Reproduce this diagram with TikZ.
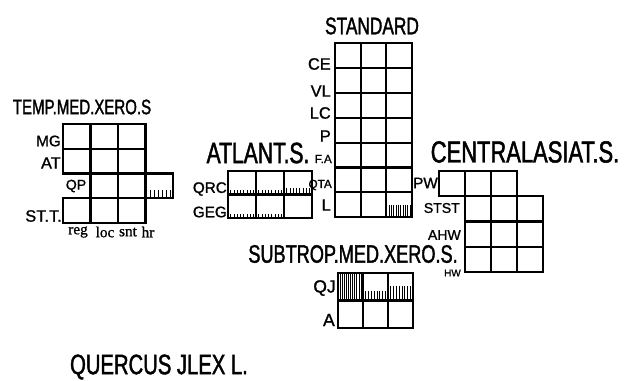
\documentclass[tikz,border=0pt]{standalone}
\usepackage{fontspec}
\setmainfont[FakeBold=1.2]{Liberation Sans}
\newfontfamily\handfont[FakeStretch=0.72, FakeBold=1.5]{Liberation Sans}
\newfontfamily\tagfont[FakeBold=1]{Liberation Serif}
\usetikzlibrary{positioning}

\newcommand{\hatchcell}[5]{%
  \foreach \k in {1,...,#5}
    \draw[hatch] ({#1+(#2-#1)*(\k-0.5)/#5},#3) -- ++(0,-#4);}

\begin{document}
\begin{tikzpicture}[x=0.03cm, y=-0.03cm,
    cell/.style={draw, line width=1.8pt},
    hatch/.style={line width=0.6pt},
    title/.style={font=\handfont\fontsize{#1}{#1}\selectfont, inner sep=0pt},
    lab/.style={anchor=east, inner sep=0pt, font=\fontsize{#1}{#1}\selectfont},
    tag/.style={inner sep=0pt, font=\tagfont\fontsize{13}{13}\selectfont}
  ]
  \useasboundingbox (0,0) rectangle (627,380);

  \node[title=20.5] (tStd) at (372,26) {STANDARD};
  \foreach \c in {0,1,2}
    \foreach \r in {0,...,6}
      \draw[cell] ({335+\c*25.7},{43+\r*24.9}) rectangle ++(25.7,24.9);
  \hatchcell{388}{411}{216}{11}{10}
  \node[lab=14] (ce) at (331,64) {CE};
  \node[lab=14] (vl) at (331,91) {VL};
  \node[lab=14] (lc) at (331,113) {LC};
  \node[lab=14] (p) at (331,136) {P};
  \node[lab=10] (fa) at (332,159) {F.A};
  \node[lab=10] (qta) at (332,185) {QTA};
  \node[lab=14] (l) at (331,205) {L};

  \node[title=17.8] (tTemp) at (82,107) {TEMP.MED.XERO.S};
  \foreach \r in {0,1,3}
    \foreach \c in {0,1,2}
      \draw[cell] ({63+\c*27.5},{124+\r*24.75}) rectangle ++(27.5,24.75);
  \foreach \c in {1,2,3}
    \draw[cell] ({63+\c*27.5},{124+2*24.75}) rectangle ++(27.5,24.75);
  \hatchcell{148}{172}{197}{7}{6}
  \node[lab=13] (mg) at (61,141) {MG};
  \node[lab=14] (at) at (61,163) {AT};
  \node[inner sep=0pt, font=\fontsize{12}{12}\selectfont] (qp) at (76,186) {QP};
  \node[lab=14] (stt) at (62,216) {ST.T.};
  \node[tag] (reg) at (78,232) {reg};
  \node[tag] (loc) at (105,232) {loc};
  \node[tag] (snt) at (128,232) {snt};
  \node[tag] (hr) at (148,232) {hr};

  \node[title=25] (tAtl) at (258,153) {ATLANT.S.};
  \foreach \r in {0,1}
    \foreach \c in {0,1,2}
      \draw[cell] ({228+\c*28},{171+\r*23.5}) rectangle ++(28,23.5);
  \hatchcell{229}{255}{194}{4}{8}
  \hatchcell{257}{283}{194}{4}{8}
  \hatchcell{285}{311}{194}{6}{8}
  \hatchcell{229}{255}{217}{3}{8}
  \hatchcell{257}{283}{217}{3}{8}
  \node[lab=13] (qrc) at (227,189) {QRC};
  \node[lab=13] (geg) at (227,212) {GEG};

  \node[title=26] (tCas) at (525,152) {CENTRALASIAT.S.};
  \foreach \c in {0,1,2}
    \draw[cell] ({439+\c*26},171) rectangle ++(26,25.25);
  \foreach \r in {1,2,3}
    \foreach \c in {1,2,3}
      \draw[cell] ({439+\c*26},{171+\r*25.25}) rectangle ++(26,25.25);
  \node[lab=13] (pw) at (438,183) {PW};
  \node[lab=12] (stst) at (460,208) {STST};
  \node[lab=12] (ahw) at (461,235) {AHW};
  \node[lab=8.5] (hw) at (461,273) {HW};

  \node[title=21.5] (tSub) at (353,254) {SUBTROP.MED.XERO.S.};
  \foreach \r in {0,1}
    \foreach \c in {0,1,2}
      \draw[cell] ({338+\c*25},{273+\r*27.5}) rectangle ++(25,27.5);
  \hatchcell{339}{362}{300}{26}{11}
  \hatchcell{364}{387}{300}{9}{8}
  \hatchcell{389}{412}{300}{14}{8}
  \node[lab=15] (qj) at (336,288) {QJ};
  \node[lab=15] (a) at (335,320) {A};

  \node[title=24] (tSpec) at (159,367) {QUERCUS JLEX L.};
\end{tikzpicture}
\end{document}
